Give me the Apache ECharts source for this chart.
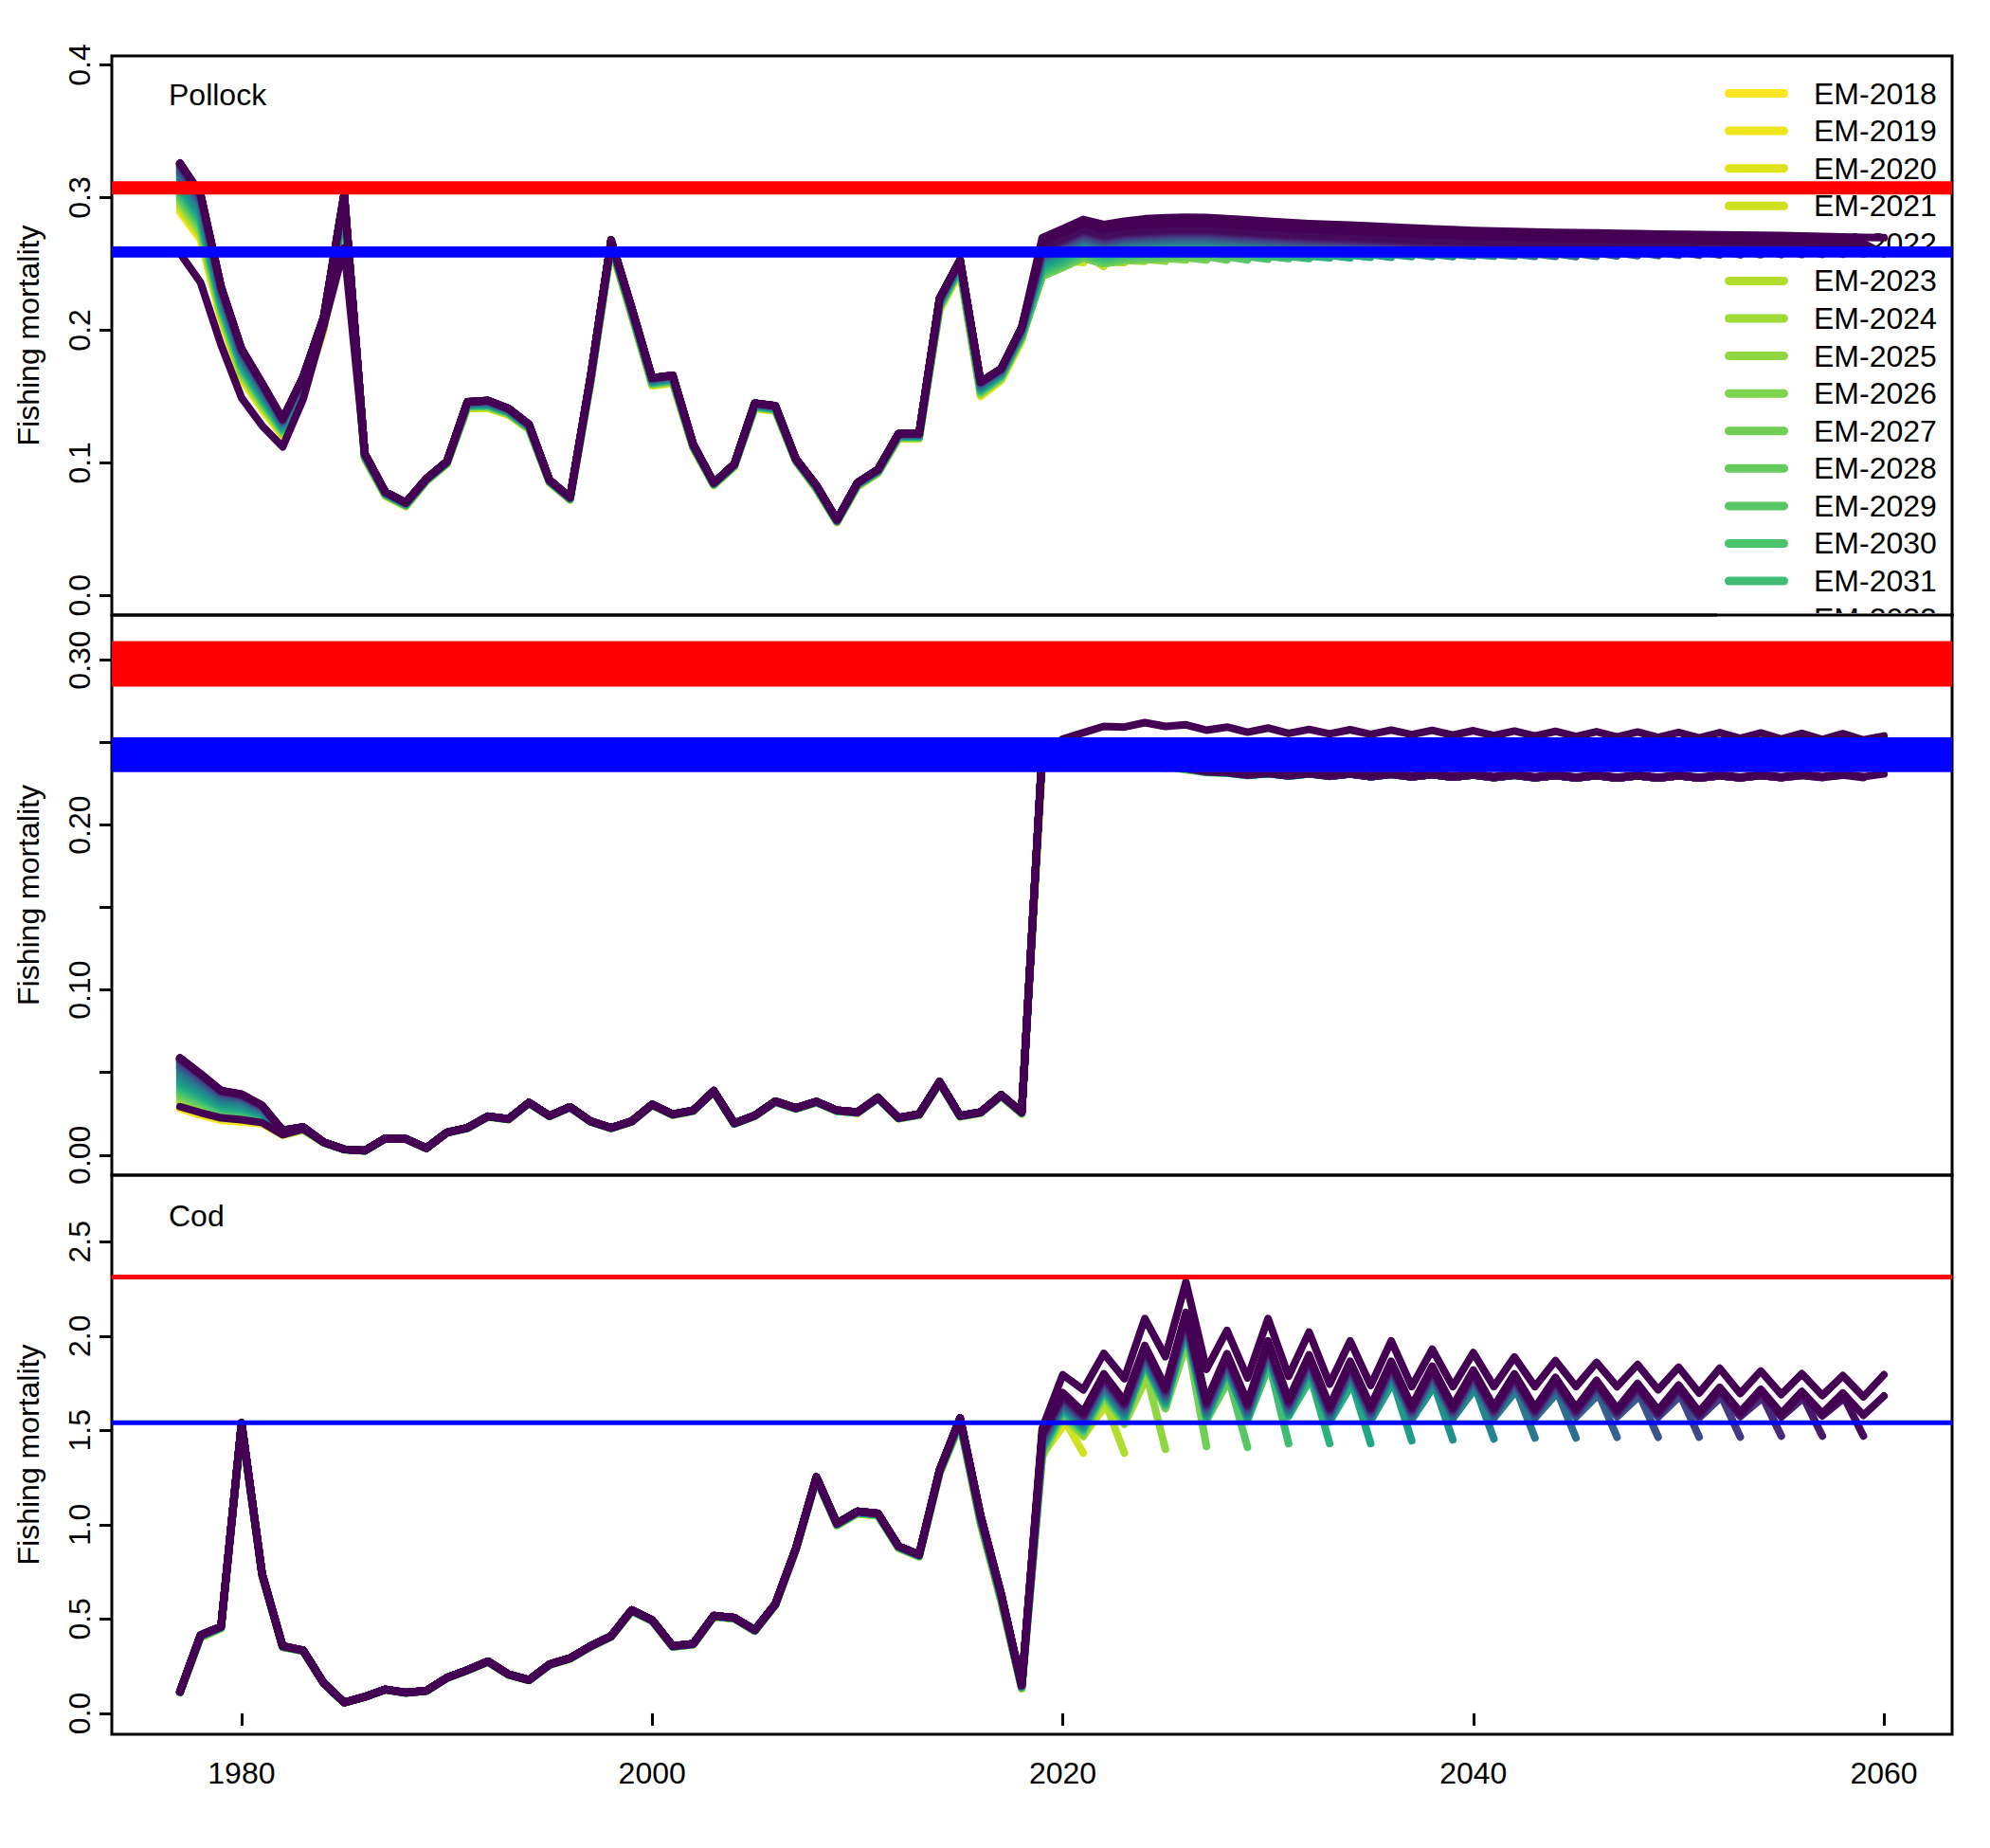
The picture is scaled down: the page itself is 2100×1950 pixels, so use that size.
<!DOCTYPE html>
<html><head><meta charset="utf-8">
<script src="https://cdn.jsdelivr.net/npm/echarts@6/dist/echarts.min.js"></script>
<style>html,body{margin:0;padding:0;background:#fff}#chart{width:2100px;height:1950px}</style>
</head><body><div id="chart"></div>
<script>
// ---------------- categories ----------------
const histYears = [1977,1978,1979,1980,1981,1982,1983,1984,1985,1986,1987,1988,1989,1990,1991,1992,1993,1994,1995,1996,1997,1998,1999,2000,2001,2002,2003,2004,2005,2006,2007,2008,2009,2010,2011,2012,2013,2014,2015,2016,2017,2018];
const projYears = [2019,2020,2021,2022,2023,2024,2025,2026,2027,2028,2029,2030,2031,2032,2033,2034,2035,2036,2037,2038,2039,2040,2041,2042,2043,2044,2045,2046,2047,2048,2049,2050,2051,2052,2053,2054,2055,2056,2057,2058,2059,2060];
const emYears = [2018,2019,2020,2021,2022,2023,2024,2025,2026,2027,2028,2029,2030,2031,2032,2033,2034,2035,2036,2037,2038,2039,2040,2041,2042,2043,2044,2045,2046,2047,2048,2049,2050,2051,2052,2053,2054,2055,2056,2057,2058,2059,2060];
const legendYears = [2018,2019,2020,2021,2022,2023,2024,2025,2026,2027,2028,2029,2030,2031,2032];
const xTicks = [1980,2000,2020,2040,2060];
const polTicks = [0,0.1,0.2,0.3,0.4];
const midTicks = [0,0.05,0.1,0.15,0.2,0.25,0.3];
const midLabels = [0,0.1,0.2,0.3];
const codTicks = [0,0.5,1,1.5,2,2.5];

// position of each EM inside the early-year fan (EM-2018 = 0, EM-2060 = 1)
const emFanShare = [0.00,0.03,0.06,0.09,0.12,0.15,0.18,0.21,0.24,0.27,0.30,0.33,0.36,0.39,0.42,0.45,0.48,0.51,0.54,0.57,0.60,0.63,0.66,0.69,0.72,0.75,0.78,0.80,0.82,0.84,0.86,0.88,0.90,0.92,0.935,0.95,0.96,0.97,0.98,0.985,0.99,0.995,1.00];

// ---------------- Pollock ----------------
const polHistLast = [0.326,0.303,0.233,0.186,0.160,0.133,0.165,0.210,0.303,0.107,
 0.078,0.070,0.088,0.101,0.146,0.147,0.141,0.129,0.087,0.074,
 0.165,0.268,0.217,0.164,0.166,0.114,0.085,0.099,0.145,0.143,
 0.103,0.083,0.057,0.085,0.095,0.122,0.122,0.224,0.253,0.161,
 0.171,0.202];
const polHistFirst = [0.289,0.268,0.208,0.163,0.140,0.120,0.152,0.200,0.285,0.103,
 0.075,0.067,0.086,0.099,0.141,0.141,0.136,0.125,0.085,0.072,
 0.160,0.262,0.211,0.158,0.160,0.111,0.083,0.097,0.141,0.139,
 0.101,0.080,0.055,0.082,0.092,0.118,0.118,0.215,0.244,0.150,
 0.162,0.192];
const polOmHist = [0.258,0.236,0.189,0.149,0.128,0.112,0.148,0.203,0.262,0.107,
 0.078,0.070,0.088,0.101,0.146,0.147,0.141,0.129,0.087,0.074,
 0.165,0.268,0.217,0.164,0.166,0.114,0.085,0.099,0.145,0.143,
 0.103,0.083,0.057,0.085,0.095,0.122,0.122,0.224,0.253,0.161,
 0.171,0.202];
const polOmProj = [0.2697,0.2764,0.2835,0.2797,0.2821,0.2840,0.2847,0.2852,0.2850,0.2840,
 0.2831,0.2821,0.2812,0.2804,0.2798,0.2792,0.2785,0.2778,0.2771,0.2764,
 0.2758,0.2752,0.2748,0.2745,0.2741,0.2738,0.2735,0.2733,0.2730,0.2728,
 0.2725,0.2723,0.2721,0.2719,0.2717,0.2716,0.2714,0.2711,0.2707,0.2704,
 0.2700,0.2697];
const polProjLast = [0.2667,0.2734,0.2805,0.2762,0.2786,0.2795,0.2802,0.2807,0.2805,0.2795,
 0.2786,0.2776,0.2767,0.2759,0.2753,0.2747,0.2740,0.2733,0.2726,0.2719,
 0.2713,0.2707,0.2703,0.2700,0.2696,0.2693,0.2690,0.2688,0.2685,0.2683,
 0.2680,0.2678,0.2676,0.2674,0.2672,0.2671,0.2669,0.2666,0.2662,0.2659,
 0.2655,0.2652];
const polEmGap = [0,0.015,0.019,0.021,0.023,0.025,0.026,0.026,0.026,0.026,
 0.025,0.024,0.023,0.022,0.021,0.020,0.019,0.018,0.017,0.016,
 0.015,0.0145,0.014,0.0135,0.013,0.0125,0.012,0.0115,0.011,0.0105,
 0.010,0.0095,0.009,0.0085,0.008,0.0075,0.007,0.0065,0.006,0.0055,
 0.005,0.004,0];
const polEmEnd = [0.192,0.249,0.250,0.251,0.248,0.251,0.252,0.252,0.253,0.253,
 0.253,0.253,0.2535,0.254,0.254,0.2545,0.2545,0.255,0.255,0.2555,
 0.2555,0.2555,0.2558,0.2558,0.2558,0.2556,0.2556,0.2555,0.2557,0.256,
 0.2562,0.2563,0.2565,0.2566,0.2567,0.2568,0.2569,0.257,0.2571,0.2572,
 0.2573,0.2575,0.2575];
const polRed = [0.3041,0.3106];
const polBlue = [0.2565,0.2613];

// ---------------- middle panel ----------------
const midHistLast = [0.0589,0.0493,0.0391,0.0369,0.0301,0.0150,0.0170,0.0078,0.0035,0.0027,
 0.0101,0.0098,0.0042,0.0137,0.0165,0.0235,0.0219,0.0318,0.0238,0.0292,
 0.0205,0.0165,0.0205,0.0307,0.0247,0.0271,0.0389,0.0193,0.0240,0.0326,
 0.0285,0.0324,0.0271,0.0260,0.0349,0.0226,0.0248,0.0444,0.0238,0.0260,
 0.0365,0.0260];
const midHistFirst = [0.0280,0.0240,0.0210,0.0200,0.0190,0.0120,0.0150,0.0075,0.0033,0.0025,
 0.0099,0.0096,0.0040,0.0134,0.0162,0.0231,0.0215,0.0313,0.0234,0.0288,
 0.0201,0.0161,0.0201,0.0302,0.0242,0.0266,0.0383,0.0188,0.0235,0.0320,
 0.0279,0.0318,0.0265,0.0254,0.0342,0.0220,0.0242,0.0435,0.0232,0.0254,
 0.0355,0.0250];
const midOmHist = [0.0293,0.0257,0.0225,0.0214,0.0196,0.0123,0.0159,0.0078,0.0035,0.0027,
 0.0101,0.0098,0.0042,0.0137,0.0165,0.0235,0.0219,0.0318,0.0238,0.0292,
 0.0205,0.0165,0.0205,0.0307,0.0247,0.0271,0.0389,0.0193,0.0240,0.0326,
 0.0285,0.0324,0.0271,0.0260,0.0349,0.0226,0.0248,0.0444,0.0238,0.0260,
 0.0365,0.0260];
const midOmProj = [0.2435,0.2521,0.2560,0.2598,0.2594,0.2621,0.2598,0.2608,0.2575,0.2594,
 0.2563,0.2588,0.2556,0.2580,0.2553,0.2578,0.2550,0.2576,0.2548,0.2574,
 0.2545,0.2572,0.2542,0.2570,0.2540,0.2568,0.2537,0.2566,0.2534,0.2564,
 0.2531,0.2562,0.2528,0.2560,0.2525,0.2558,0.2522,0.2556,0.2519,0.2554,
 0.2516,0.2540];
const midProjLast = [0.2445,0.2442,0.2440,0.2440,0.2430,0.2405,0.2375,0.2350,0.2330,0.2325,
 0.2310,0.2320,0.2305,0.2318,0.2303,0.2316,0.2300,0.2314,0.2298,0.2312,
 0.2296,0.2310,0.2294,0.2308,0.2292,0.2306,0.2291,0.2305,0.2290,0.2304,
 0.2290,0.2304,0.2290,0.2304,0.2291,0.2305,0.2292,0.2306,0.2293,0.2307,
 0.2293,0.2310];
const midEmGap = [0,0.004,0.006,0.007,0.007,0.006,0.004,0.003,0.002,0.0015,
 0.0012,0.001,0.0009,0.0009,0.0008,0.0008,0.0008,0.0007,0.0007,0.0007,
 0.0006,0.0006,0.0006,0.0006,0.0006,0.0006,0.0006,0.0006,0.0006,0.0006,
 0.0005,0.0005,0.0005,0.0005,0.0005,0.0005,0.0005,0.0005,0.0005,0.0005,
 0.0004,0.0003,0];
const midEmEnd = [0.0250,0.2400,0.2370,0.2360,0.2360,0.2360,0.2360,0.2345,0.2335,0.2320,
 0.2318,0.2305,0.2315,0.2300,0.2313,0.2298,0.2311,0.2295,0.2309,0.2293,
 0.2307,0.2291,0.2305,0.2289,0.2303,0.2287,0.2301,0.2286,0.2300,0.2285,
 0.2299,0.2285,0.2299,0.2285,0.2299,0.2286,0.2300,0.2287,0.2301,0.2288,
 0.2302,0.2288,0.2310];
const midRed = [0.2853,0.3101];
const midBlue = [0.2335,0.2518];

// ---------------- Cod ----------------
const codHistLast = [0.115,0.415,0.460,1.540,0.740,0.357,0.334,0.161,0.058,0.088,
 0.127,0.110,0.120,0.189,0.230,0.276,0.207,0.177,0.260,0.293,
 0.357,0.410,0.548,0.495,0.357,0.369,0.518,0.507,0.442,0.580,
 0.875,1.253,1.007,1.071,1.060,0.887,0.841,1.290,1.566,1.048,
 0.633,0.150];
const codHistFirst = [0.110,0.400,0.450,1.520,0.730,0.350,0.330,0.158,0.056,0.086,
 0.125,0.108,0.118,0.186,0.227,0.272,0.204,0.174,0.256,0.289,
 0.352,0.405,0.541,0.489,0.352,0.364,0.512,0.501,0.436,0.573,
 0.865,1.240,0.995,1.058,1.047,0.875,0.830,1.270,1.530,1.000,
 0.590,0.130];
const codOmHist = [0.115,0.415,0.460,1.540,0.740,0.357,0.334,0.161,0.058,0.088,
 0.127,0.110,0.120,0.189,0.230,0.276,0.207,0.177,0.260,0.293,
 0.357,0.410,0.548,0.495,0.357,0.369,0.518,0.507,0.442,0.580,
 0.875,1.253,1.007,1.071,1.060,0.887,0.841,1.290,1.566,1.048,
 0.633,0.150];
const codOmProj = [1.510,1.795,1.715,1.908,1.774,2.093,1.891,2.286,1.824,2.030,
 1.778,2.093,1.787,2.021,1.745,1.974,1.738,1.974,1.732,1.930,
 1.732,1.912,1.732,1.889,1.732,1.870,1.732,1.860,1.732,1.849,
 1.715,1.835,1.698,1.829,1.695,1.815,1.690,1.800,1.685,1.790,
 1.678,1.795];
const codProjLast = [1.490,1.700,1.598,1.800,1.657,1.950,1.730,2.125,1.657,1.907,
 1.650,1.975,1.665,1.900,1.630,1.866,1.630,1.866,1.630,1.840,
 1.630,1.820,1.625,1.800,1.620,1.780,1.620,1.765,1.615,1.749,
 1.607,1.740,1.598,1.728,1.598,1.718,1.590,1.707,1.590,1.698,
 1.580,1.682];
const codEmGap = [0,0.080,0.120,0.130,0.130,0.130,0.125,0.120,0.115,0.110,
 0.105,0.100,0.097,0.094,0.091,0.088,0.085,0.082,0.079,0.076,
 0.073,0.070,0.067,0.064,0.061,0.058,0.055,0.052,0.049,0.046,
 0.043,0.040,0.037,0.034,0.031,0.028,0.025,0.022,0.019,0.016,
 0.013,0.010,0];
const codEmEnd = [0.130,1.420,1.520,1.380,1.620,1.380,1.760,1.400,1.950,1.415,
 1.750,1.410,1.830,1.430,1.760,1.430,1.730,1.430,1.740,1.445,
 1.720,1.450,1.710,1.455,1.700,1.460,1.690,1.460,1.680,1.464,
 1.675,1.464,1.675,1.465,1.670,1.465,1.665,1.470,1.665,1.470,
 1.665,1.470,1.682];
const codRed = [2.313,2.313];
const codBlue = [1.541,1.541];

// ---------------- styling ----------------
const FONT = '"Liberation Sans", Arial, sans-serif';
const X_MIN = 1973.68, X_MAX = 2063.32;
const REF_LINE_W = 5;
const viridisStops = ['#440154','#471365','#482475','#463480','#414487','#3B528B','#355F8D','#2F6C8E','#2A788E','#25848E','#21918C','#1E9C89','#22A884','#2FB47C','#44BF70','#5EC962','#7AD151','#9BD93C','#BDDF26','#DFE318','#FDE725'];
function hexToRgb(h){return [parseInt(h.slice(1,3),16),parseInt(h.slice(3,5),16),parseInt(h.slice(5,7),16)];}
function viridis(p){
  const s=Math.max(0,Math.min(1,p))*20; const i=Math.min(19,Math.floor(s)); const f=s-i;
  const a=hexToRgb(viridisStops[i]), b=hexToRgb(viridisStops[i+1]);
  return 'rgb('+a.map((v,k)=>Math.round(v+(b[k]-v)*f)).join(',')+')';
}
const emColors = emYears.map((k,i)=>viridis(1 - i/(emYears.length-1)));
const omColor = '#440154';

const panels = [
  {top:59, height:590, min:-0.0148, max:0.4068, ticks:polTicks, labels:polTicks, dec:1,
   histLast:polHistLast, histFirst:polHistFirst, omHist:polOmHist, omProj:polOmProj,
   projLast:polProjLast, gap:polEmGap, end:polEmEnd, red:polRed, blue:polBlue},
  {top:649, height:591, min:-0.0122, max:0.3273, ticks:midTicks, labels:midLabels, dec:2,
   histLast:midHistLast, histFirst:midHistFirst, omHist:midOmHist, omProj:midOmProj,
   projLast:midProjLast, gap:midEmGap, end:midEmEnd, red:midRed, blue:midBlue},
  {top:1240, height:590, min:-0.111, max:2.853, ticks:codTicks, labels:codTicks, dec:1,
   histLast:codHistLast, histFirst:codHistFirst, omHist:codOmHist, omProj:codOmProj,
   projLast:codProjLast, gap:codEmGap, end:codEmEnd, red:codRed, blue:codBlue}
];

function bandRenderer(col){
  return function(params, api){
    const lo = api.value(1), hi = api.value(2);
    const pHi = api.coord([X_MIN, hi]);
    const pLo = api.coord([X_MAX, lo]);
    return {type:'rect',
      shape:{x:pHi[0], y:pHi[1]-REF_LINE_W/2, width:pLo[0]-pHi[0], height:(pLo[1]-pHi[1])+REF_LINE_W},
      style:{fill:col}};
  };
}

const grids=[], xAxes=[], yAxes=[], series=[];
panels.forEach((p, gi) => {
  const bottom = gi === panels.length-1;
  grids.push({left:118, width:1942, top:p.top, height:p.height, show:true, borderColor:'#000', borderWidth:3, backgroundColor:'transparent'});
  xAxes.push({type:'value', gridIndex:gi, min:X_MIN, max:X_MAX,
    axisLine:{show:false}, splitLine:{show:false},
    axisTick:{show:bottom, customValues:xTicks, length:13, lineStyle:{color:'#000', width:3}},
    axisLabel:{show:bottom, customValues:xTicks, formatter:(v)=>String(Math.round(v)), fontSize:32, color:'#000', margin:25, fontFamily:FONT}});
  yAxes.push({type:'value', gridIndex:gi, min:p.min, max:p.max,
    axisLine:{show:false}, splitLine:{show:false},
    axisTick:{show:true, customValues:p.ticks, length:13, lineStyle:{color:'#000', width:3}},
    axisLabel:{customValues:p.labels, formatter:(v)=>Number(v).toFixed(p.dec), rotate:90, fontSize:32, color:'#000', margin:18, fontFamily:FONT},
    name:'Fishing mortality', nameLocation:'middle', nameGap:72,
    nameTextStyle:{fontSize:32, color:'#000', fontFamily:FONT}});

  emYears.forEach((k, i) => {
    const data = [];
    histYears.forEach((y, j) => {
      if (y > k) return;
      if (y === k) { data.push([y, p.end[i]]); return; }
      data.push([y, p.histFirst[j] + emFanShare[i]*(p.histLast[j]-p.histFirst[j])]);
    });
    projYears.forEach((y, j) => {
      if (y > k) return;
      data.push([y, y === k ? p.end[i] : p.projLast[j] - p.gap[i]]);
    });
    series.push({type:'line', name:'EM-'+k, xAxisIndex:gi, yAxisIndex:gi, data:data,
      showSymbol:false, symbol:'none', silent:true, animation:false, z:2,
      color:emColors[i], itemStyle:{color:emColors[i]},
      lineStyle:{color:emColors[i], width:8, cap:'round', join:'round'}});
  });
  const omData = histYears.map((y,j)=>[y, p.omHist[j]]).concat(projYears.map((y,j)=>[y, p.omProj[j]]));
  series.push({type:'line', name:'OM', xAxisIndex:gi, yAxisIndex:gi, data:omData,
    showSymbol:false, symbol:'none', silent:true, animation:false, z:2,
    color:omColor, lineStyle:{color:omColor, width:8, cap:'round', join:'round'}});
  // reference-point bands (range of the reference point across EMs)
  [[p.red,'#FF0000'],[p.blue,'#0000FF']].forEach(([band,col]) => {
    series.push({type:'custom', name:'ref', xAxisIndex:gi, yAxisIndex:gi,
      data:[[X_MIN, band[0], band[1]]], encode:{x:0, y:[1,2]},
      renderItem:bandRenderer(col), silent:true, animation:false, z:5, clip:true});
  });
});

const chart = echarts.init(document.getElementById('chart'), null, {renderer:'svg'});
chart.setOption({
  animation:false,
  backgroundColor:'#ffffff',
  textStyle:{fontFamily:FONT},
  grid:grids, xAxis:xAxes, yAxis:yAxes, series:series,
  legend:{data:legendYears.map(y=>'EM-'+y), orient:'vertical', left:1820, top:82.5, z:1,
    itemWidth:67, itemHeight:9, itemGap:7.58, selectedMode:false, padding:0,
    icon:'path://M4.5,0 L62.5,0 A4.5,4.5 0 0 1 62.5,9 L4.5,9 A4.5,4.5 0 0 1 4.5,0 Z',
    itemStyle:{borderWidth:0},
    textStyle:{fontSize:32, color:'#000', fontFamily:FONT, lineHeight:32, padding:[0,0,0,22]}},
  graphic:[
    {type:'rect', z:3, silent:true, shape:{x:1812, y:647, width:246, height:26}, style:{fill:'#ffffff'}},
    {type:'line', z:3, silent:true, shape:{x1:1812, y1:649, x2:2061.5, y2:649}, style:{stroke:'#000', lineWidth:3}},
    {type:'text', z:3, silent:true, x:178, y:100, style:{text:'Pollock', fill:'#000', font:'32px '+FONT, verticalAlign:'middle'}},
    {type:'text', z:3, silent:true, x:178, y:1283, style:{text:'Cod', fill:'#000', font:'32px '+FONT, verticalAlign:'middle'}}
  ]
});
</script></body></html>
